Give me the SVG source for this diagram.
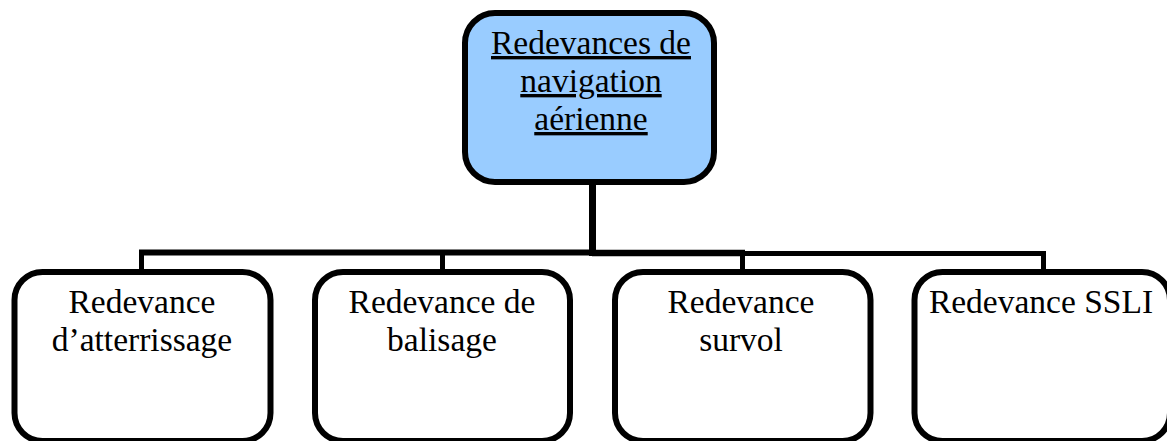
<svg xmlns="http://www.w3.org/2000/svg" width="1167" height="441" viewBox="0 0 1167 441">
  <style>
    .box { fill: #ffffff; stroke: #000000; stroke-width: 6; }
    .root { fill: #99ccff; stroke: #000000; stroke-width: 6; }
    .lbl { font-family: "Liberation Serif", "Times New Roman", serif; font-size: 33.5px; fill: #000000; text-anchor: middle; }
    .ul { text-decoration: underline; }
    .wire { stroke: #000000; fill: none; stroke-linecap: butt; }
  </style>

  <!-- tree connectors -->
  <g id="connectors" class="wire">
    <line x1="592.5" y1="184" x2="592.5" y2="256" stroke-width="7"/>
    <line x1="139" y1="252.5" x2="592" y2="252.5" stroke-width="6"/>
    <line x1="592" y1="253" x2="745" y2="253" stroke-width="6.5"/>
    <line x1="745" y1="253.5" x2="1046" y2="253.5" stroke-width="5"/>
    <line x1="141.5" y1="250" x2="141.5" y2="271" stroke-width="5"/>
    <line x1="442.5" y1="250" x2="442.5" y2="271" stroke-width="5"/>
    <line x1="742.5" y1="250" x2="742.5" y2="271" stroke-width="5"/>
    <line x1="1043.5" y1="251" x2="1043.5" y2="271" stroke-width="5"/>
  </g>

  <!-- root node -->
  <g id="node-root">
    <rect class="root" x="465" y="13" width="249" height="169" rx="30" ry="30"/>
    <text class="lbl ul" x="591" y="54">Redevances de</text>
    <text class="lbl ul" x="591" y="92">navigation</text>
    <text class="lbl ul" x="591" y="130">aérienne</text>
  </g>

  <!-- child nodes -->
  <g id="node-atterrissage">
    <rect class="box" x="14.5" y="272" width="256" height="169" rx="28" ry="28"/>
    <text class="lbl" x="142" y="313">Redevance</text>
    <text class="lbl" x="142" y="351">d’atterrissage</text>
  </g>

  <g id="node-balisage">
    <rect class="box" x="315" y="272" width="255" height="169" rx="28" ry="28"/>
    <text class="lbl" x="442" y="313">Redevance de</text>
    <text class="lbl" x="442" y="351">balisage</text>
  </g>

  <g id="node-survol">
    <rect class="box" x="615" y="272" width="255.5" height="169" rx="28" ry="28"/>
    <text class="lbl" x="741" y="313">Redevance</text>
    <text class="lbl" x="741" y="351">survol</text>
  </g>

  <g id="node-ssli">
    <rect class="box" x="914.5" y="272" width="255.5" height="169" rx="28" ry="28"/>
    <text class="lbl" x="1041" y="313">Redevance SSLI</text>
  </g>
</svg>
